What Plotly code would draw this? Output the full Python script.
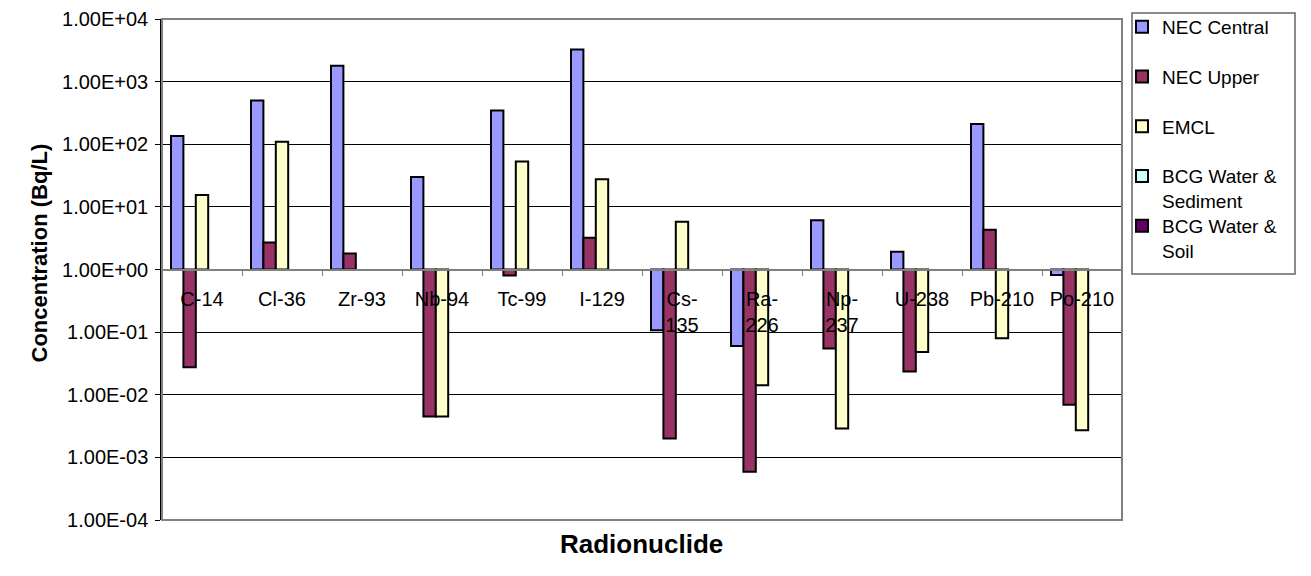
import plotly.graph_objects as go

# ---- data ----
categories = ["C-14", "Cl-36", "Zr-93", "Nb-94", "Tc-99", "I-129",
              "Cs-135", "Ra-226", "Np-237", "U-238", "Pb-210", "Po-210"]
category_labels = ["C-14", "Cl-36", "Zr-93", "Nb-94", "Tc-99", "I-129",
                   "Cs-<br>135", "Ra-<br>226", "Np-<br>237", "U-238", "Pb-210", "Po-210"]

series_names = ["NEC Central", "NEC Upper", "EMCL",
                "BCG Water &<br>Sediment", "BCG Water &<br>Soil"]

nec_central = [135, 500, 1800, 30, 345, 3250, 0.107, 0.060, 6.1, 1.92, 210, 0.82]
nec_upper = [0.0275, 2.7, 1.8, 0.0045, 0.80, 3.2, 0.0020, 0.00059, 0.055, 0.0235, 4.3, 0.0069]
emcl = [15.5, 110, None, 0.0045, 53, 27.5, 5.8, 0.0142, 0.0029, 0.048, 0.080, 0.0027]
bcg_water_sediment = [None, None, None, None, None, None, None, None, None, None, None, None]
bcg_water_soil = [None, None, None, None, None, None, None, None, None, None, None, None]

y_tick_vals = [1e-4, 1e-3, 1e-2, 1e-1, 1e0, 1e1, 1e2, 1e3, 1e4]
y_tick_text = ["1.00E-04", "1.00E-03", "1.00E-02", "1.00E-01", "1.00E+00",
               "1.00E+01", "1.00E+02", "1.00E+03", "1.00E+04"]

BASELINE = 1.0  # bars grow up/down from 1.00E+00

colors = ["#9999FF", "#993366", "#FFFFCC", "#CCFFFF", "#660066"]
all_series = [nec_central, nec_upper, emcl, bcg_water_sediment, bcg_water_soil]

FONT = "Liberation Sans, Arial, sans-serif"

fig = go.Figure()
for i, (name, vals, col) in enumerate(zip(series_names, all_series, colors)):
    size = [None if v is None else v - BASELINE for v in vals]
    fig.add_trace(go.Bar(
        x=categories, y=size, base=BASELINE, name=name,
        customdata=vals, hovertemplate="%{x}: %{customdata}<extra>" + name + "</extra>",
        marker=dict(color=col, line=dict(color="black", width=2)),
        legendgroup="g%d" % i,
        legend="legend" if i < 4 else "legend2",
    ))

# page offset of the plotly div (default body margin)
OFF = 8
W, H = 1311, 576
# target plot area in page pixels: x 162..1122, y 19..520
L, T = 162 - OFF, 19 - OFF
R = W - (1122 - OFF)
B = H - (520 - OFF)
pw, ph = W - L - R, H - T - B

def px_x(p):
    return (p - OFF - L) / pw

def px_y(p):
    return (H - B - (p - OFF)) / ph

fig.update_layout(
    width=W, height=H,
    margin=dict(l=L, r=R, t=T, b=B, autoexpand=False),
    paper_bgcolor="white", plot_bgcolor="white",
    barmode="group", bargap=0.225, bargroupgap=0,
    font=dict(family=FONT, size=20, color="black"),
    xaxis=dict(
        type="category",
        tickvals=categories, ticktext=category_labels,
        anchor="free", position=0.5,
        showline=True, linecolor="#808080", linewidth=2,
        ticks="outside", tickson="boundaries", ticklen=5, tickcolor="#808080",
        ticklabelstandoff=11,
        showgrid=False, zeroline=False,
        tickfont=dict(family=FONT, size=20, color="black"),
    ),
    yaxis=dict(
        type="log", range=[-4, 4],
        tickvals=y_tick_vals, ticktext=y_tick_text,
        showline=True, linecolor="black", linewidth=1.5,
        ticks="outside", ticklen=5, tickcolor="black",
        ticklabelstandoff=3,
        showgrid=True, gridcolor="black", gridwidth=1,
        zeroline=False,
        tickfont=dict(family=FONT, size=20, color="black"),
    ),
    legend=dict(
        x=px_x(1122), xanchor="left", y=px_y(8), yanchor="top",
        bgcolor="rgba(0,0,0,0)", borderwidth=0,
        font=dict(family=FONT, size=19, color="black"),
        tracegroupgap=22, valign="top", traceorder="grouped",
    ),
    legend2=dict(
        x=px_x(1122), xanchor="left", y=px_y(207), yanchor="top",
        bgcolor="rgba(0,0,0,0)", borderwidth=0,
        font=dict(family=FONT, size=19, color="black"),
        valign="top",
    ),
    shapes=[
        # plot frame
        dict(type="rect", xref="paper", yref="paper", x0=0, x1=1, y0=0, y1=1,
             line=dict(color="#808080", width=2), layer="above"),
        # legend box
        dict(type="rect", xref="paper", yref="paper",
             x0=px_x(1132), x1=px_x(1295), y0=px_y(274), y1=px_y(13),
             line=dict(color="#666666", width=1.5)),
    ],
    annotations=[
        dict(text="<b>Concentration (Bq/L)</b>", xref="paper", yref="paper",
             x=px_x(24), y=px_y(253), textangle=-90, showarrow=False,
             font=dict(family=FONT, size=22, color="black")),
        dict(text="<b>Radionuclide</b>", xref="paper", yref="paper",
             x=px_x(641), y=px_y(561), showarrow=False,
             font=dict(family=FONT, size=26, color="black")),
    ],
)

fig.write_html("out.html")
